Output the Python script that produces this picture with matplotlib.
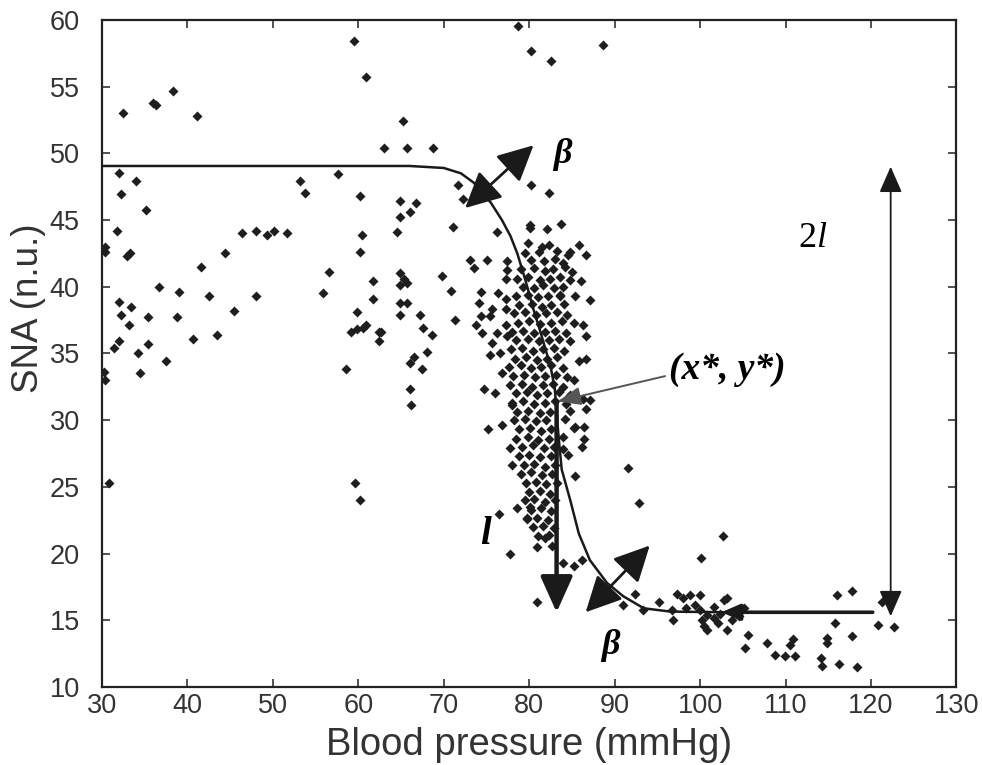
import matplotlib
matplotlib.use("Agg")
import matplotlib.pyplot as plt
from matplotlib.patches import FancyArrowPatch

# ---------------- data ----------------
left_bp = [32.4, 36.0, 36.3, 38.3, 41.1, 59.5, 60.9, 65.2, 63.0, 65.7, 68.7,
           32.0, 34.0, 32.2, 35.2, 31.7, 30.4, 30.3, 32.9, 33.3, 46.4, 48.0, 49.3, 50.1, 51.7,
           44.4, 41.6, 36.7, 39.0, 42.5, 48.0, 32.0, 33.4, 32.2, 35.4, 38.8, 45.4, 33.1, 40.7,
           43.4, 32.0, 31.4, 35.4, 30.2, 30.3, 34.2, 34.4, 37.5, 30.8,
           57.6, 53.2, 53.7, 60.2, 60.4, 60.2, 56.6, 55.9, 61.7, 61.7, 59.8, 59.1, 59.8, 60.6,
           60.9, 62.4, 62.4, 58.5, 59.6, 60.2,
           64.9, 66.8, 64.9, 66.1, 64.5, 64.9, 65.3, 65.7, 64.9, 64.9, 65.7, 64.9, 67.2, 62.6,
           67.6, 68.6, 69.8, 70.8, 71.3, 71.7, 72.3, 71.1, 66.5, 66.1, 67.4, 68.0, 66.1, 66.2,
           78.7, 80.2, 82.5, 88.6]
left_sna = [53.05, 53.8, 53.6, 54.7, 52.8, 58.4, 55.7, 52.4, 50.4, 50.4, 50.4,
            48.55, 47.95, 46.95, 45.75, 44.2, 42.95, 42.6, 42.3, 42.55, 44.0, 44.2, 43.9, 44.2, 44.0,
            42.55, 41.5, 39.95, 39.6, 39.3, 39.3, 38.85, 38.45, 37.9, 37.7, 37.75, 38.2, 37.15, 36.1,
            36.4, 35.95, 35.4, 35.7, 33.6, 33.0, 35.05, 33.5, 34.4, 25.3,
            48.45, 47.9, 47.05, 46.8, 43.9, 42.6, 41.1, 39.5, 40.4, 39.1, 38.1, 36.6, 36.8, 36.9,
            37.1, 36.6, 35.9, 33.8, 25.3, 24.0,
            46.4, 46.3, 45.25, 45.6, 44.1, 41.0, 40.6, 40.25, 40.1, 38.8, 38.8, 37.9, 37.9, 36.6,
            36.9, 36.4, 40.8, 39.7, 37.5, 47.6, 46.6, 44.5, 34.75, 34.25, 33.8, 35.1, 32.3, 31.1,
            59.55, 57.7, 56.9, 58.1]

edge_bp = [73.1, 73.5, 75.0, 76.2, 80.2, 82.3, 83.7, 80.1,
           77.4, 77.4, 77.3, 74.3, 74.1, 75.6, 76.3, 77.3, 77.3, 74.3, 73.8, 74.5, 75.4, 76.2,
           77.3, 77.4, 75.6, 76.6, 75.4, 76.8, 74.7, 76.0, 78.0, 75.2, 76.8, 77.7, 78.0,
           76.5, 78.6, 80.1, 79.7, 77.7, 80.9, 81.9, 82.7, 84.0, 85.2, 86.2, 80.9,
           85.8, 86.7, 84.8, 85.0, 83.6, 85.4, 87.1, 85.2, 86.3, 86.7, 85.8, 86.7, 85.2, 86.3,
           87.1, 86.7, 85.4, 86.4, 86.4, 86.2, 84.0, 85.4]
edge_sna = [42.0, 41.4, 42.0, 44.1, 47.6, 47.0, 44.7, 44.6,
            41.9, 41.25, 40.6, 39.6, 38.8, 38.3, 39.5, 39.1, 38.3, 37.8, 37.1, 36.55, 37.8, 36.5,
            37.1, 36.3, 35.8, 35.0, 34.9, 33.5, 32.3, 32.0, 31.1, 29.3, 29.6, 27.9, 26.6,
            23.0, 23.4, 23.5, 22.65, 20.0, 20.5, 21.15, 20.6, 19.3, 19.1, 19.5, 16.4,
            43.1, 42.4, 42.6, 41.1, 39.3, 39.3, 39.0, 37.3, 37.1, 36.3, 34.4, 34.6, 33.0, 31.6,
            31.5, 30.8, 29.5, 29.5, 28.6, 28.0, 27.8, 25.8]

core_bp = [80.1, 82.1, 81.5, 82.3, 79.8, 79.5, 81.1, 83.3, 84.5, 80.2, 81.7, 83.0, 84.0,
           79.0, 80.5, 81.8, 82.8, 84.2, 78.6, 79.8, 81.2, 82.4, 83.6, 84.8, 86.0,
           79.3, 80.6, 81.6, 82.9, 84.0, 78.4, 79.9, 81.0, 82.2, 83.6,
           78.8, 80.3, 81.5, 82.6, 84.1, 78.2, 79.5, 80.8, 82.0, 83.2, 84.4,
           78.7, 80.0, 81.2, 82.5, 83.8, 78.0, 79.3, 80.6, 81.8, 83.0, 84.3,
           78.5, 79.8, 81.1, 82.3, 83.5, 84.8, 77.9, 79.2, 80.4, 81.6, 82.9, 84.1,
           78.3, 79.6, 80.9, 82.1, 83.3, 77.6, 79.0, 80.2, 81.4, 82.6, 83.9,
           78.1, 79.4, 80.7, 81.9, 83.1, 84.4, 77.8, 79.1, 80.3, 81.6, 82.8, 84.0,
           78.4, 79.7, 80.9, 82.1, 83.5, 84.8, 78.0, 79.3, 80.6, 81.8, 83.0, 84.3,
           78.6, 79.9, 81.2, 82.4, 84.8, 78.2, 79.5, 80.8, 82.0, 84.2,
           78.8, 80.1, 81.4, 82.6, 85.2, 78.5, 79.8, 81.0, 82.3, 84.0,
           79.1, 80.4, 81.7, 82.9, 78.8, 80.0, 81.3, 82.5, 84.5,
           79.4, 80.6, 81.9, 83.0, 79.0, 80.2, 81.5, 82.7, 79.6, 80.8, 82.0, 83.2,
           80.0, 81.2, 82.4, 79.5, 80.6, 81.8, 83.0, 80.2, 81.4, 82.6,
           79.7, 80.9, 82.2, 80.4, 81.6, 82.9, 81.0, 82.3]
core_sna = [44.4, 44.3, 43.0, 43.1, 43.3, 42.5, 42.6, 42.7, 42.4, 42.0, 41.9, 42.1, 41.8,
            41.3, 41.4, 41.2, 41.3, 41.5, 40.6, 40.7, 40.5, 40.6, 40.7, 40.5, 40.4,
            40.0, 39.9, 40.1, 39.9, 40.0, 39.3, 39.4, 39.2, 39.3, 39.4,
            38.6, 38.7, 38.5, 38.6, 38.7, 38.0, 38.1, 37.9, 38.0, 38.1, 37.9,
            37.3, 37.4, 37.2, 37.3, 37.4, 36.6, 36.7, 36.5, 36.6, 36.7, 36.5,
            36.0, 36.1, 35.9, 36.0, 36.1, 35.9, 35.3, 35.4, 35.2, 35.3, 35.4, 35.2,
            34.6, 34.7, 34.5, 34.6, 34.7, 34.0, 34.1, 33.9, 34.0, 34.1, 33.9,
            33.3, 33.4, 33.2, 33.3, 33.4, 33.2, 32.6, 32.7, 32.5, 32.6, 32.7, 32.5,
            32.0, 32.1, 31.9, 32.0, 32.1, 31.9, 31.3, 31.4, 31.2, 31.3, 31.4, 31.2,
            30.6, 30.7, 30.5, 30.6, 30.7, 30.0, 30.1, 29.9, 30.0, 30.1,
            29.3, 29.4, 29.2, 29.3, 29.4, 28.6, 28.7, 28.5, 28.6, 28.7,
            28.0, 28.1, 27.9, 28.0, 27.3, 27.4, 27.2, 27.3, 27.4,
            26.6, 26.7, 26.5, 26.6, 26.0, 26.1, 25.9, 26.0, 25.3, 25.4, 25.2, 25.3,
            24.6, 24.7, 24.5, 24.0, 24.1, 23.9, 24.0, 23.3, 23.4, 23.2,
            22.6, 22.7, 22.5, 22.0, 22.1, 21.9, 21.3, 21.4]

right_bp = [91.6, 92.9, 102.7, 100.1, 92.4, 95.2, 91.0, 93.3, 89.5, 97.3, 98.0, 98.8, 100.0,
            96.7, 96.8, 98.4, 99.4, 100.0, 100.2, 100.8, 100.8, 101.6, 102.1, 101.6, 102.8,
            103.2, 103.2, 102.3, 103.7, 104.5, 105.1, 100.4, 105.6, 105.3, 107.8, 110.9, 110.5,
            108.8, 109.9, 111.1, 116.0, 117.8, 115.8, 114.8, 114.8, 117.8, 114.2, 114.3, 116.2,
            118.4, 120.8, 122.7, 121.3]
right_sna = [26.4, 23.8, 21.3, 19.65, 17.0, 16.4, 16.15, 15.8, 16.8, 17.0, 16.65, 16.9, 16.9,
             15.8, 15.0, 15.9, 16.15, 15.8, 15.0, 15.4, 14.3, 15.15, 14.8, 16.0, 16.5,
             16.65, 14.3, 15.5, 15.0, 15.3, 15.9, 14.6, 13.9, 12.9, 13.3, 13.6, 13.15,
             12.4, 12.3, 12.3, 16.9, 17.2, 14.8, 13.65, 13.3, 13.8, 12.2, 11.6, 11.7,
             11.5, 14.65, 14.5, 16.4]

# fitted baroreflex curve
curve_bp = [30, 66, 70, 72, 73.5, 74.3, 75.5, 76.8, 77.8, 78.6, 79.5, 80.5, 81.5, 82.5,
            83.0, 83.2, 83.5, 83.8, 84.8, 85.8, 87.1, 89.1, 91.0, 93.4, 96.5, 103.0]
curve_sna = [49.05, 49.05, 48.9, 48.5, 47.8, 47.2, 46.3, 45.0, 43.8, 42.5, 40.6, 38.3, 36.2, 34.0,
             32.3, 30.5, 28.3, 26.3, 24.0, 21.5, 19.5, 17.8, 16.8, 15.9, 15.65, 15.6]

# annotation anchor values (data units)
x_star, y_star = 83.0, 31.4
y_top, y_bottom = 49.0, 15.6
l_x = 83.2
twol_x = 122.3
flat_end = 120.2

xticks = [30, 40, 50, 60, 70, 80, 90, 100, 110, 120, 130]
yticks = [10, 15, 20, 25, 30, 35, 40, 45, 50, 55, 60]

# ---------------- figure ----------------
fig = plt.figure(figsize=(9.82, 7.65), dpi=100)
ax = fig.add_axes([0.1039, 0.102, 0.8701, 0.872])

dot = dict(marker='D', s=26, color='#1e1e1e', linewidths=0, zorder=3)
ax.scatter(left_bp, left_sna, **dot)
ax.scatter(edge_bp, edge_sna, **dot)
ax.scatter(core_bp, core_sna, **dot)
ax.scatter(right_bp, right_sna, **dot)

ax.plot(curve_bp, curve_sna, color='#1a1a1a', lw=1.8, zorder=4)

def arrow(p0, p1, style, lw, ms, color='#1a1a1a'):
    a = FancyArrowPatch(p0, p1, arrowstyle=style, mutation_scale=ms, lw=lw,
                        color=color, shrinkA=0, shrinkB=0, zorder=5)
    ax.add_patch(a)

# flat part arrow (pointing left)
arrow((flat_end, y_bottom), (102.5, y_bottom), '-|>,head_length=0.8,head_width=0.35', 2.6, 14)
# l arrow
arrow((l_x, y_star), (l_x, y_bottom), '-|>,head_length=1.0,head_width=0.45', 3.2, 22)
# 2l arrow
arrow((twol_x, y_bottom - 0.3), (twol_x, y_top), '<|-|>,head_length=0.8,head_width=0.35', 1.3, 20)
# beta arrows
arrow((72.5, 45.9), (80.5, 50.6), '<|-|>,head_length=1.0,head_width=0.5', 2.0, 22)
arrow((86.6, 15.6), (94.1, 20.6), '<|-|>,head_length=1.0,head_width=0.5', 2.0, 22)
# (x*, y*) pointer
arrow((95.9, 33.3), (x_star + 0.3, y_star), '-|>,head_length=0.9,head_width=0.35', 1.4, 16,
      color='#555555')

serif = 'Liberation Serif'
ax.text(83.9, 49.9, 'β', fontsize=26, family=serif, style='italic', weight='bold',
        ha='center', va='center', zorder=6)
ax.text(89.5, 13.1, 'β', fontsize=26, family=serif, style='italic', weight='bold',
        ha='center', va='center', zorder=6)
ax.text(74.9, 21.4, 'l', fontsize=28, family=serif, style='italic', weight='bold',
        ha='center', va='center', zorder=6)
ax.text(96.4, 33.8, '(x*, y*)', fontsize=27, family=serif, style='italic', weight='bold',
        ha='left', va='center', zorder=6)
ax.text(113.6, 43.6, '2', fontsize=26, family=serif, ha='right', va='center', zorder=6)
ax.text(113.6, 43.6, 'l', fontsize=26, family=serif, style='italic', ha='left', va='center',
        zorder=6)

ax.set_xlim(30, 130)
ax.set_ylim(10, 60)
ax.set_xticks(xticks)
ax.set_yticks(yticks)
sans = 'Liberation Sans'
ax.set_xticklabels([str(t) for t in xticks], fontsize=19.5, family=sans, color='#333333')
ax.set_yticklabels([str(t) for t in yticks], fontsize=19.5, family=sans, color='#333333')
ax.tick_params(direction='in', top=True, right=True, length=6, width=1.2, color='#333333')
ax.tick_params(axis='y', pad=16)
ax.tick_params(axis='x', pad=4)
for s in ax.spines.values():
    s.set_linewidth(1.6)
    s.set_color('#222222')

ax.set_xlabel('Blood pressure (mmHg)', fontsize=27.5, family=sans, color='#333333',
              va='center')
ax.set_ylabel('SNA (n.u.)', fontsize=26.5, family=sans, color='#333333', va='center')
ax.xaxis.set_label_coords(0.5, -0.087)
ax.yaxis.set_label_coords(-0.0866, 0.567)

fig.savefig('out.png', dpi=100)
